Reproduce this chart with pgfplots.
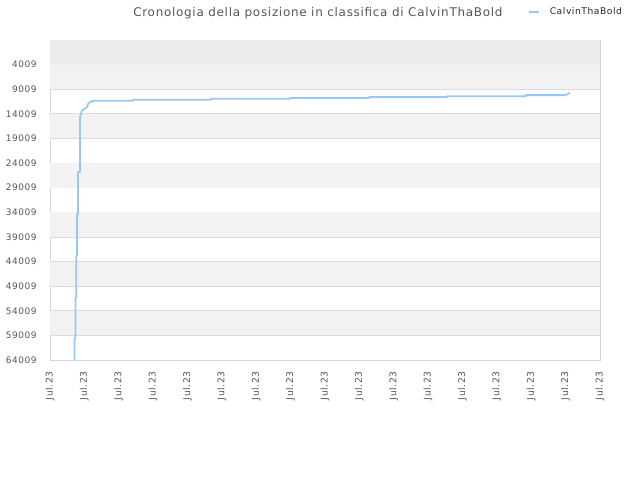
\documentclass[border=0pt]{standalone}
\usepackage{pgfplots}
\pgfplotsset{compat=1.18}
\usepackage{fontspec}
\setmainfont{DejaVu Sans}[LetterSpace=6]
\definecolor{serie}{RGB}{153,199,245}
\definecolor{griglia}{RGB}{221,221,221}
\definecolor{bordo}{RGB}{214,214,214}
\definecolor{bandA}{RGB}{242,242,242}
\definecolor{bandTop}{RGB}{236,236,236}
\definecolor{titolo}{RGB}{85,85,85}
\begin{document}
\begin{tikzpicture}
\useasboundingbox (0,0) rectangle (640bp,480bp);
\begin{axis}[
  at={(50bp,120bp)}, anchor=south west,
  scale only axis, width=550bp, height=320bp,
  xmin=0, xmax=16, ymin=-991, ymax=64009,
  y dir=reverse,
  scaled y ticks=false,
  xtick={0,1,...,16},
  xticklabels={Jul.23,Jul.23,Jul.23,Jul.23,Jul.23,Jul.23,Jul.23,Jul.23,Jul.23,Jul.23,Jul.23,Jul.23,Jul.23,Jul.23,Jul.23,Jul.23,Jul.23},
  x tick label style={rotate=90, anchor=east, font=\fontsize{9.3}{10}\selectfont, text=titolo},
  xticklabel shift=8bp,
  ytick={4009,9009,...,64009},
  y tick label style={font=\fontsize{9}{10}\selectfont, text=titolo},
  yticklabel shift=10bp,
  /pgf/number format/.cd, 1000 sep={}, assume math mode=true,
  /pgfplots/.cd,
  major tick length=0pt,
  ymajorgrids, grid style={griglia, line width=0.8pt},
  axis line style={bordo, line width=0.8pt},
  title={Cronologia della posizione in classifica di CalvinThaBold},
  title style={at={(0.487,1.0875)}, anchor=center, yshift=-7bp, font=\fontsize{12}{14}\selectfont, text=titolo},
  legend style={at={(0.869,1.0875)}, anchor=west, draw=none, fill=none,
    font=\fontsize{9.2}{10}\selectfont, text=black!85, inner sep=0pt,
    nodes={inner xsep=5bp}},
  legend image code/.code={\draw[#1, line width=1.5pt] (0bp,0bp) -- (10bp,0bp);\path (15bp,0bp);},
]
\fill[bandTop] (axis cs:0,-991) rectangle (axis cs:16,4009);
\pgfplotsinvokeforeach{4009,14009,24009,34009,44009,54009}{
  \fill[bandA] (axis cs:0,#1) rectangle (axis cs:16,#1+5000);
}
\addplot[serie, line width=1.8pt, line join=round] coordinates {
(0.713,64009) (0.713,59609) (0.742,59609) (0.742,51409) (0.765,51409)
(0.765,42809) (0.785,42809) (0.785,34409) (0.815,34409) (0.815,25809)
(0.873,25809) (0.873,14609) (0.902,14009) (0.931,13409) (0.989,13009)
(1.047,12809) (1.076,12609) (1.105,12009) (1.135,11809) (1.193,11509)
(1.265,11349) (2.415,11349) (2.415,11149) (4.684,11149) (4.684,10949)
(6.982,10949) (6.982,10809) (9.280,10809) (9.280,10609) (11.549,10609)
(11.549,10449) (13.847,10449) (13.847,10209) (14.982,10209) (15.040,10069)
(15.127,9709)
};
\addlegendentry{CalvinThaBold}
\end{axis}
\end{tikzpicture}
\end{document}
